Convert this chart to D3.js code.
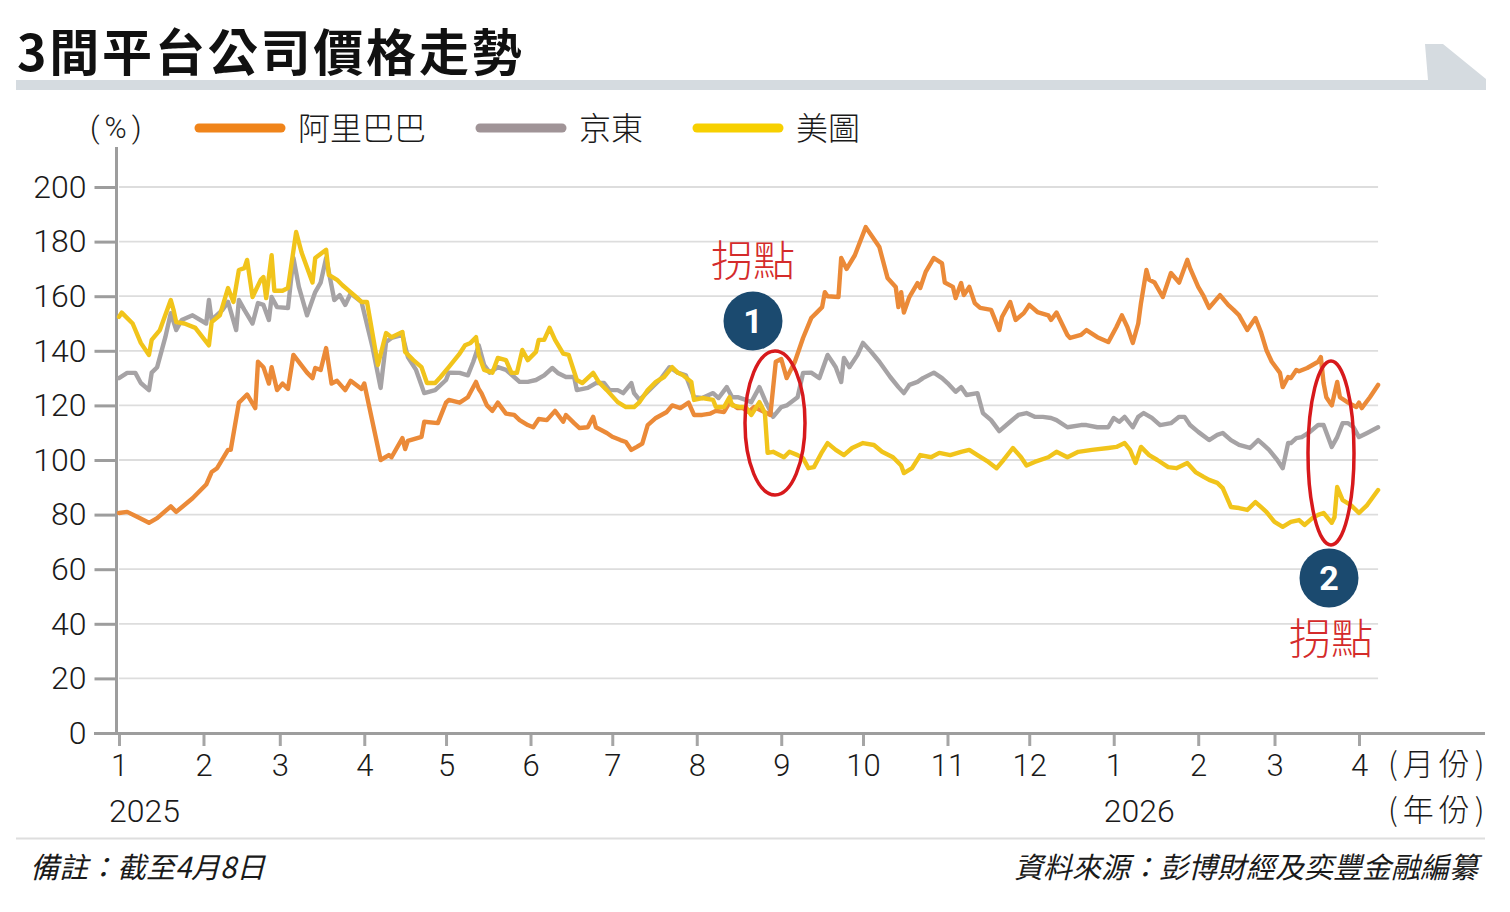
<!DOCTYPE html>
<html><head><meta charset="utf-8">
<script src="https://cdn.jsdelivr.net/npm/d3@7"></script>
<style>
html,body{margin:0;padding:0;background:#fff;}
svg{display:block;}
</style></head><body>
<svg id="c" width="1510" height="912"></svg>
<script>
// ---------------- DATA ----------------
const chartTitle = "3間平台公司價格走勢";
const unitLabel = "(%)";
const startDate = "2025-01-01";            // day 0 of the series below
const endDate = "2026-04-08";
const seriesNames = ["阿里巴巴", "京東", "美圖"];
const yTicks = [0, 20, 40, 60, 80, 100, 120, 140, 160, 180, 200];
const monthTicks = ["2025-01-01","2025-02-01","2025-03-01","2025-04-01","2025-05-01","2025-06-01",
  "2025-07-01","2025-08-01","2025-09-01","2025-10-01","2025-11-01","2025-12-01",
  "2026-01-01","2026-02-01","2026-03-01","2026-04-01"];
const monthLabels = ["1","2","3","4","5","6","7","8","9","10","11","12","1","2","3","4"];
const yearTicks = ["2025-01-01", "2026-01-01"];
const yearLabels = ["2025", "2026"];
const noteText = "備註：截至4月8日";
const sourceText = "資料來源：彭博財經及奕豐金融編纂";
const pivotLabel = "拐點";
const pivotDates = ["2025-09-03", "2026-03-23"];

// [days since startDate, value %]
const alibaba = [[0,80.6],[3,81],[7,79],[11,77],[14,78.7],[19,83],[21,81],[27,86],[32,91],[34,95.6],[36,97],[40,103.7],[41,103.7],[44,121],[45,122],[47,124],[50,119],[51,136],[53,134],[55,128],[56,134],[58,125.6],[60,128],[62,126],[64,138.5],[69,132],[71,130],[72,133.7],[74,133],[76,141],[78,128],[80,129],[83,125.6],[85,129],[89,126],[90,128],[96,100],[99,101.8],[100,101],[104,108],[105,104],[106,107],[111,108.5],[112,114],[117,113.5],[120,121],[121,122],[125,121],[128,123],[131,128.6],[132,126],[133,124.5],[135,120],[137,118],[139,121],[142,117],[145,116.5],[147,114.6],[150,112.8],[152,112],[154,115],[157,114.6],[160,118],[163,114],[164,116.5],[167,113.5],[169,111.7],[172,112],[174,115.8],[175,112],[179,109.9],[181,108.5],[184,107.3],[186,106.6],[188,103.7],[190,104.8],[192,106],[194,112.8],[197,115.4],[201,117.6],[203,120],[206,119],[209,121],[211,116.5],[214,116.5],[217,117],[219,118],[222,117.6],[224,121],[227,119],[229,119],[231,117.6],[233,119.4],[238,117],[239,116.5],[241,136],[243,137],[245,130],[248,136],[251,144.7],[254,152],[256,154],[258,156],[259,161.5],[260,160],[264,159.7],[265,174],[267,170],[270,175],[274,185.3],[279,178],[282,166.7],[285,163.4],[286,156],[287,161.5],[288,154],[290,159.7],[293,164.8],[294,163],[296,168.9],[299,174],[302,172],[303,165],[306,163.4],[307,159.3],[309,164.8],[310,160.4],[312,163.4],[314,157.5],[316,155.7],[320,155],[323,147.6],[324,152.4],[327,157.9],[329,151.3],[332,153.8],[334,156.8],[337,154.2],[341,153],[342,151.3],[344,154],[348,145.8],[349,144.7],[353,145.8],[355,147.6],[359,145],[363,143.2],[364,145],[366,148.7],[368,153],[370,148.7],[372,142.9],[374,150],[375,157.5],[377,169.6],[378,166],[380,165],[383,159.7],[386,168.5],[389,165],[392,173.3],[393,170.3],[396,163.4],[398,160],[400,155.7],[404,160.4],[407,156.8],[409,155],[411,153],[414,147.6],[417,152],[419,146.9],[421,140.3],[423,136],[426,131.9],[427,126.7],[429,130.4],[430,130],[432,133],[433,132.5],[436,133.7],[440,136],[441,137.7],[442,128.2],[443,123],[445,120],[447,128.6],[448,123],[451,121],[454,119.4],[455,121],[456,119],[459,123],[462,127.5]];

const jd = [[0,130],[3,131.9],[6,131.9],[8,128.2],[11,125.6],[12,132],[14,134],[17,145],[19,153.8],[21,147.6],[23,151.3],[27,153],[32,150],[33,158.6],[34,151.3],[38,155],[40,157.9],[43,147.6],[44,158.6],[46,155],[49,150],[51,157.5],[53,156.8],[55,151.3],[56,159.7],[58,156],[62,155.7],[64,174],[66,163.4],[69,153],[72,161.5],[74,165],[76,174],[79,158.6],[81,160.4],[83,156.8],[85,161],[89,157.9],[93,141.4],[96,126.4],[98,143.2],[100,144.7],[104,145.8],[106,137.7],[109,133],[112,124.5],[116,125.6],[120,129.3],[121,132],[125,131.9],[128,131],[130,136],[132,142],[134,134.8],[136,132],[139,134],[142,133],[145,130.4],[147,128.6],[150,128.6],[153,129.3],[156,131],[159,133.7],[161,131.9],[164,130.4],[167,130.4],[168,125.6],[172,126.4],[175,128.2],[178,128.2],[180,125.6],[183,125.6],[185,124.5],[188,128.2],[189,124.5],[191,122],[194,125],[199,130],[202,134],[205,132],[208,131],[211,123],[214,122.7],[218,124.5],[220,122.7],[223,126.7],[225,123],[227,123],[230,122],[232,121.2],[235,126.7],[237,122],[240,115.8],[243,119.4],[245,120],[249,123],[251,131.9],[254,132],[257,130],[260,138.5],[262,135.5],[263,134],[265,128.6],[266,137.4],[268,134],[271,138.5],[273,142.9],[276,139.6],[279,136],[283,130.4],[286,126.7],[288,124.5],[290,127.5],[293,128.6],[295,130],[299,132],[302,130],[304,128.2],[307,125],[309,126.7],[311,123.8],[315,124.5],[317,117.2],[320,114.6],[323,110.6],[327,114],[330,116.5],[333,117.2],[336,115.8],[339,115.8],[342,115.4],[344,114.6],[348,112],[353,112.8],[355,112.8],[359,112],[363,112],[365,115.4],[367,114],[369,115.8],[372,112],[374,115.8],[376,117.2],[379,115.4],[382,112.8],[386,113.5],[389,115.8],[391,115.8],[393,112.8],[396,110.3],[400,107.3],[403,109.2],[405,109.9],[408,107.3],[411,105.5],[415,104.4],[418,107.3],[420,105.5],[422,103.7],[425,100],[427,97],[429,106.2],[430,106.2],[432,108],[434,108.4],[437,110.3],[440,112.8],[442,112.8],[445,104.8],[447,108.4],[449,113.5],[451,113.5],[453,112],[455,108.4],[458,109.9],[462,112]];

const meituan = [[0,152.4],[1,154],[5,150],[8,142.9],[11,138.5],[12,144],[15,147.6],[19,158.6],[20,155],[21,150.5],[24,150],[28,148.4],[33,142],[34,150.5],[37,153],[40,163],[42,157.9],[44,169.6],[46,170.3],[47,173.3],[49,159.7],[52,166],[53,167],[54,159.3],[56,175],[57,162],[60,162],[62,163],[65,183.5],[67,176],[71,165],[72,174],[76,177],[77,167.8],[80,166],[82,164],[84,162.3],[87,159.7],[89,157.9],[91,157.9],[95,134.8],[98,146.5],[100,145],[104,146.9],[105,139.6],[108,136.6],[111,134],[113,128.2],[116,128.2],[118,130.4],[121,134],[125,139],[127,142],[129,142.9],[131,145],[132,138.5],[134,133],[137,132],[139,137.4],[142,136.6],[144,131.9],[146,131.9],[148,140.3],[150,136.6],[153,139.6],[154,144],[156,144],[158,148.4],[160,144],[163,139],[165,138.5],[168,129.3],[170,128.2],[174,131.9],[176,128.6],[179,125.6],[183,121.2],[186,119.4],[189,119.4],[191,121.2],[194,125.6],[197,128.6],[200,130.4],[203,134],[205,132],[207,131],[210,128.6],[211,122],[214,122.7],[218,122],[219,119.4],[222,119.4],[224,123],[225,120],[228,119.4],[230,119.4],[232,116.5],[235,121.2],[237,117.2],[238,102.6],[240,103],[244,101],[246,103],[249,101.8],[251,100.7],[253,97],[255,97.4],[258,103],[260,106.2],[263,103.7],[266,101.8],[269,104.4],[273,106.2],[277,105.5],[280,103],[284,101],[287,98],[288,95.2],[291,97],[294,101.8],[298,101],[301,102.6],[305,101.8],[309,103],[312,103.7],[315,101.8],[319,99.3],[322,97],[324,99.3],[328,104.4],[331,101],[333,98],[336,99.3],[341,101],[344,103],[348,101],[352,103],[357,103.7],[363,104.4],[366,104.8],[369,106.2],[371,103.7],[373,98.9],[375,104.8],[378,101.8],[381,100],[385,97.4],[388,97],[392,98.9],[395,95.6],[398,93.8],[400,92.7],[403,91.6],[405,89.7],[408,82.8],[411,82.4],[414,81.7],[417,84.6],[419,82.8],[421,81],[424,77.3],[427,75.5],[430,77.3],[433,78],[435,76.2],[438,78.8],[440,79.9],[442,80.6],[445,77],[446,79],[447,90.1],[449,85.3],[452,83.5],[455,80.6],[458,83.5],[462,89]];

// ---------------- STYLE ----------------
const lineColors = ["#eb8a38", "#a6a3a5", "#f1c41b"];
const legendColors = ["#f0841a", "#a09497", "#f7d000"];
const numFont = "Roboto, 'Liberation Sans', Arial, sans-serif";
const cjkFont = "'Noto Sans CJK TC', 'Noto Sans CJK SC', sans-serif";

const svg = d3.select("#c");
const parse = d3.utcParse("%Y-%m-%d");
const t0 = parse(startDate);
const toDate = d => d3.utcDay.offset(t0, d);

const x = d3.scaleUtc().domain([parse("2025-01-01"), parse("2026-04-01")]).range([119, 1359]);
const y = d3.scaleLinear().domain([0, 200]).range([733, 187]);
const xEnd = x(parse(endDate));

// ---- header ----
svg.append("text").attr("x", 17).attr("y", 71)
  .attr("font-family", cjkFont).attr("font-weight", 700).attr("font-size", 50)
  .attr("letter-spacing", 2.8).attr("fill", "#111").text(chartTitle);
svg.append("polygon")
  .attr("points", "16,80 1428,80 1425,44 1443,44 1486,79 1486,90 16,90")
  .attr("fill", "#d5dbe0");

// ---- grid ----
svg.append("g").selectAll("line").data(yTicks.filter(v => v > 0)).join("line")
  .attr("x1", 119).attr("x2", xEnd).attr("y1", d => y(d)).attr("y2", d => y(d))
  .attr("stroke", "#dddddd").attr("stroke-width", 1.8);

// ---- y axis ----
const yAxis = svg.append("g").attr("transform", "translate(116.5,0)")
  .call(d3.axisLeft(y).tickValues(yTicks).tickSize(22).tickPadding(8));
yAxis.select(".domain").remove();
yAxis.selectAll(".tick line").attr("stroke", "#9d9d9d").attr("stroke-width", 3);
yAxis.selectAll(".tick text").attr("font-family", numFont).attr("font-weight", 300)
  .attr("font-size", 32).attr("fill", "#1a1a1a");
svg.append("line").attr("x1", 116.5).attr("x2", 116.5).attr("y1", 147).attr("y2", 734.5)
  .attr("stroke", "#9d9d9d").attr("stroke-width", 3);

// ---- x axis ----
const monthDates = monthTicks.map(parse);
const xAxis = svg.append("g").attr("transform", "translate(0,735)")
  .call(d3.axisBottom(x).tickValues(monthDates).tickSize(11).tickPadding(8)
    .tickFormat((d, i) => monthLabels[i]));
xAxis.select(".domain").remove();
xAxis.selectAll(".tick line").attr("stroke", "#a5a5a5").attr("stroke-width", 3);
xAxis.selectAll(".tick text").attr("font-family", numFont).attr("font-weight", 300)
  .attr("font-size", 31).attr("fill", "#1a1a1a");
svg.append("line").attr("x1", 94).attr("x2", 1485).attr("y1", 733.5).attr("y2", 733.5)
  .attr("stroke", "#9d9d9d").attr("stroke-width", 3);

svg.append("g").selectAll("text").data(yearTicks).join("text")
  .attr("x", d => x(parse(d)) - 10).attr("y", 822)
  .attr("font-family", numFont).attr("font-weight", 300).attr("font-size", 32)
  .attr("fill", "#1a1a1a").text((d, i) => yearLabels[i]);
svg.append("text").attr("x", 1388).attr("y", 775).attr("font-family", cjkFont)
  .attr("font-weight", 300).attr("font-size", 31).attr("letter-spacing", 5).attr("fill", "#1a1a1a").text("(月份)");
svg.append("text").attr("x", 1388).attr("y", 821).attr("font-family", cjkFont)
  .attr("font-weight", 300).attr("font-size", 31).attr("letter-spacing", 5).attr("fill", "#1a1a1a").text("(年份)");

// ---- lines ----
const line = d3.line().x(d => x(toDate(d[0]))).y(d => y(d[1]));
const series = [alibaba, jd, meituan];
const drawOrder = [1, 0, 2];
svg.append("g").selectAll("path").data(drawOrder).join("path")
  .attr("d", i => line(series[i])).attr("fill", "none")
  .attr("stroke", i => lineColors[i]).attr("stroke-width", 4.4)
  .attr("stroke-linejoin", "round").attr("stroke-linecap", "round");

// ---- legend ----
svg.append("text").attr("x", 90).attr("y", 138).attr("font-family", numFont)
  .attr("font-weight", 300).attr("font-size", 30).attr("letter-spacing", 5)
  .attr("fill", "#1a1a1a").text(unitLabel);
const legX = [199, 480, 697];
const leg = svg.append("g").selectAll("g").data(seriesNames).join("g")
  .attr("transform", (d, i) => `translate(${legX[i]},128)`);
leg.append("line").attr("x1", 0).attr("x2", 82).attr("stroke", (d, i) => legendColors[i])
  .attr("stroke-width", 9).attr("stroke-linecap", "round");
leg.append("text").attr("x", 99).attr("y", 12).attr("font-family", cjkFont)
  .attr("font-weight", 300).attr("font-size", 32).attr("fill", "#1a1a1a").text(d => d);

// ---- annotations ----
const ann = [
  { date: pivotDates[0], ell: [775, 423, 30, 72], circ: [753, 321], label: [753, 276], num: "1" },
  { date: pivotDates[1], ell: [1331, 453, 23, 92], circ: [1329, 578], label: [1331, 654], num: "2" }
];
ann.forEach(a => {
  svg.append("ellipse").attr("cx", a.ell[0]).attr("cy", a.ell[1]).attr("rx", a.ell[2]).attr("ry", a.ell[3])
    .attr("fill", "none").attr("stroke", "#d7191c").attr("stroke-width", 3.5);
  svg.append("circle").attr("cx", a.circ[0]).attr("cy", a.circ[1]).attr("r", 29.5).attr("fill", "#1b4a6f");
  svg.append("text").attr("x", a.circ[0]).attr("y", a.circ[1] + 12).attr("text-anchor", "middle")
    .attr("font-family", numFont).attr("font-weight", 700).attr("font-size", 34).attr("fill", "#fff").text(a.num);
  svg.append("text").attr("x", a.label[0]).attr("y", a.label[1]).attr("text-anchor", "middle")
    .attr("font-family", cjkFont).attr("font-weight", 300).attr("font-size", 42).attr("fill", "#d42b2b").text(pivotLabel);
});

// ---- footer ----
svg.append("line").attr("x1", 16).attr("x2", 1485).attr("y1", 838.5).attr("y2", 838.5)
  .attr("stroke", "#dedede").attr("stroke-width", 2);
svg.append("text").attr("x", 30).attr("y", 878).attr("font-family", cjkFont)
  .attr("font-style", "italic").attr("font-size", 29).attr("fill", "#1a1a1a").text(noteText);
svg.append("text").attr("x", 1478).attr("y", 878).attr("text-anchor", "end").attr("font-family", cjkFont)
  .attr("font-style", "italic").attr("font-size", 29).attr("fill", "#1a1a1a").text(sourceText);
</script>
</body></html>
